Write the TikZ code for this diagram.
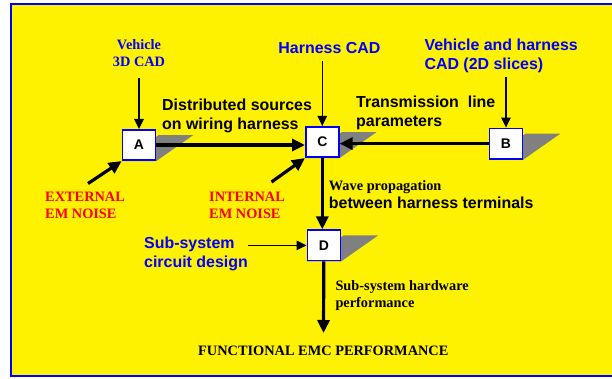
\documentclass[tikz,border=0pt]{standalone}
\usepackage{fontspec}
\setmainfont{Liberation Serif}
\setsansfont{Liberation Sans}
\usetikzlibrary{arrows.meta}
\usetikzlibrary{calc}
\usetikzlibrary{positioning}
\usetikzlibrary{backgrounds}

% slanted grey shadow behind a block
\newcommand{\boxshadow}[1]{%
  \fill[gray] (#1.south west) -- (#1.south east) -- ++(37,-26)
    -- ($(#1.south west)+(37,-26)$) -- cycle;}

\begin{document}
\begin{tikzpicture}[x=1bp,y=-1bp,
    blockbox/.style={draw=blue,fill=white,line width=1.6bp,minimum width=33bp,
      minimum height=30.5bp,inner sep=0pt,font=\sffamily\bfseries\fontsize{14}{16}\selectfont},
    sansLabel/.style={inner sep=0pt,align=left,font=\sffamily\bfseries\fontsize{16}{18.8}\selectfont},
    serifLabel/.style={inner sep=0pt,align=left,font=\rmfamily\bfseries\fontsize{14.4}{16.8}\selectfont},
    thinArrow/.style={line width=1.1bp,-{Triangle[length=10bp,width=9.5bp]}},
    thickArrow/.style={line width=3.2bp,-{Triangle[length=13bp,width=12bp]}}]
      \useasboundingbox (0,0) rectangle (612,378);

      % blocks
      \node[blockbox] (A) at (139,145) {A};
      \node[blockbox] (C) at (322.3,142) {C};
      \node[blockbox] (B) at (506,143.6) {B};
      \node[blockbox] (D) at (323.8,245.4) {D};

      \begin{pgfonlayer}{background}
        \fill[yellow] (11,4) rectangle (615,376);
        \draw[blue,line width=1.2bp] (615,4) -- (11,4) -- (11,376) -- (615,376);
        \boxshadow{A}
        \boxshadow{C}
        \boxshadow{B}
        \boxshadow{D}
      \end{pgfonlayer}

      % labels (base = baseline of the last line)
      \node[serifLabel,blue,align=center,anchor=base] (vehicleCad) at (139,66.7) {Vehicle\\3D CAD};
      \node[sansLabel,blue,anchor=base] (harnessCad) at (329.4,53) {Harness CAD};
      \node[sansLabel,blue,anchor=base west] (sliceCad) at (424.3,69) {Vehicle and harness\\CAD (2D slices)};
      \node[sansLabel,anchor=base west] (distSources) at (162,129.5) {Distributed sources\\on wiring harness};
      \node[sansLabel,anchor=base west] (lineParams) at (356,126) {Transmission\ \ line\\parameters};
      \node[serifLabel,red,anchor=base west] (extNoise) at (45,218.3) {EXTERNAL\\EM NOISE};
      \node[serifLabel,red,anchor=base west] (intNoise) at (209,218.3) {INTERNAL\\EM NOISE};
      \node[serifLabel,anchor=base west] (wave) at (328.7,190) {Wave propagation};
      \node[sansLabel,anchor=base west] (terminals) at (328.7,208.3) {between harness terminals};
      \node[sansLabel,blue,anchor=base west] (circuit) at (144,267) {Sub-system\\circuit design};
      \node[serifLabel,anchor=base west] (hwPerf) at (335.3,307.7) {Sub-system hardware\\performance};
      \node[serifLabel,anchor=base] (funcPerf) at (323.3,355.7) {FUNCTIONAL EMC PERFORMANCE};

      % free ends
      \coordinate (extTail) at (88,183.5);
      \coordinate (intTail) at (271.5,182);
      \coordinate (funcEnd) at (323.5,333);

      % inputs
      \draw[thinArrow,shorten <=11bp] (vehicleCad.south -| A) -- (A.north);
      \draw[thinArrow,shorten <=8bp] (harnessCad.south -| C) -- (C.north);
      \draw[thinArrow,shorten <=4bp] (sliceCad.south -| B) -- (B.north);
      \draw[thinArrow] (D.west -| circuit.east) -- (D.west);
      \draw[thickArrow] (extTail) -- (A.south west);
      \draw[thickArrow] (intTail) -- (C.south west);

      % main flow
      \draw[thickArrow] (A.east) -- (A.east -| C.west);
      \draw[thickArrow] (B.west) -- (B.west -| C.east);
      \draw[thickArrow] (C.south) -- (C.south |- D.north);
      \draw[thickArrow] (D.south) -- (funcEnd);
    \end{tikzpicture}
\end{document}
